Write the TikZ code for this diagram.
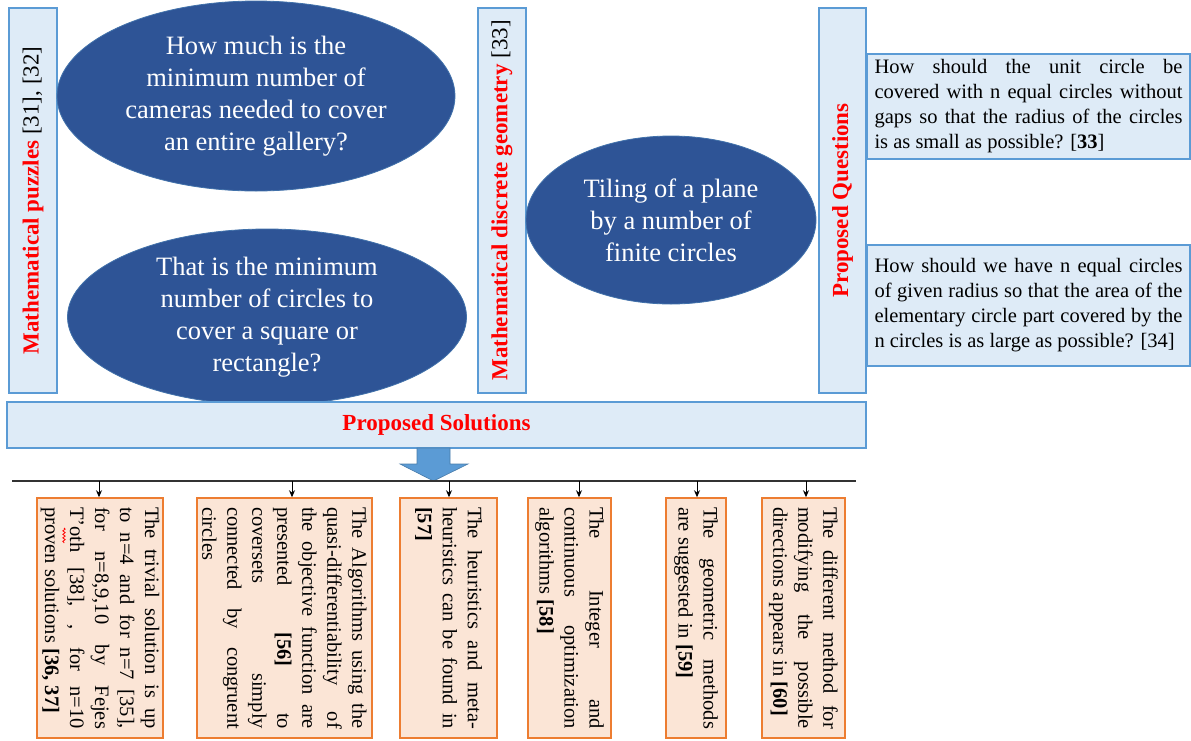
\documentclass[tikz,border=0pt]{standalone}
\usepackage{fontspec}
\setmainfont{Liberation Serif}
\usetikzlibrary{shapes.geometric,arrows.meta,decorations.pathmorphing}
\definecolor{boxblue}{RGB}{222,235,247}
\definecolor{edgeblue}{RGB}{91,155,213}
\definecolor{ellblue}{RGB}{46,84,150}
\definecolor{elledge}{RGB}{65,113,170}
\definecolor{boxorange}{RGB}{251,229,214}
\definecolor{edgeorange}{RGB}{237,125,49}
\definecolor{arrowblue}{RGB}{91,155,213}
\definecolor{linegray}{RGB}{50,50,50}
\begin{document}
\hyphenpenalty=10000
\begin{tikzpicture}[x=1pt,y=-1pt,
  vbox/.style={rectangle, draw=edgeblue, fill=boxblue, line width=1.2pt, rotate=90,
    minimum width=385pt, inner sep=0pt, font=\fontsize{23}{28}\selectfont},
  ell/.style={ellipse, draw=elledge, fill=ellblue, line width=0.8pt, text=white, inner sep=0pt,
    align=center, font=\fontsize{26.5}{32}\selectfont},
  solbox/.style={rectangle, draw=edgeblue, fill=boxblue, line width=1.2pt, inner sep=0pt,
    font=\fontsize{23}{28}\selectfont},
  qbox/.style={rectangle, draw=edgeblue, fill=boxblue, line width=1.2pt, minimum width=323pt,
    text width=308pt, align=justify, inner sep=0pt,
    font=\fontsize{20.5}{25}\selectfont},
  sbox/.style={rectangle, draw=edgeorange, fill=boxorange, line width=1.5pt, rotate=-90,
    minimum width=240pt, text width=222pt, align=justify, inner sep=0pt,
    font=\fontsize{20.5}{25}\selectfont},
  tip/.style={draw=black, line width=1pt, -{Stealth[length=7pt,width=6pt]}},
  hline/.style={draw=linegray, line width=1.6pt},
  squiggle/.style={draw=red, line width=0.8pt, decorate,
    decoration={snake, amplitude=1.2pt, segment length=3.5pt}}
]
\useasboundingbox (0,0) rectangle (1191,740);

% vertical label boxes
\node[vbox, minimum height=48pt] (mp) at (33,200.5)
  {\textcolor{red}{\bfseries Mathematical puzzles} [31], [32]};
\node[vbox, minimum height=48pt] (mg) at (502,200.5)
  {\textcolor{red}{\bfseries Mathematical discrete geometry} [33]};
\node[vbox, minimum height=47pt] (pq) at (842.5,200.5)
  {\textcolor{red}{\bfseries Proposed Questions}};

% ellipses
\node[ell, minimum width=398pt, minimum height=190pt] (e1) at (256,96)
  {How much is the\\ minimum number of\\ cameras needed to cover\\ an entire gallery?};
\node[ell, minimum width=399pt, minimum height=176pt] (e2) at (267,317)
  {That is the minimum\\ number of circles to\\ cover a square or\\ rectangle?};
\node[ell, minimum width=290pt, minimum height=168pt] (e3) at (671,220)
  {Tiling of a plane\\ by a number of\\ finite circles};

% proposed solutions bar
\node[solbox, minimum width=859pt, minimum height=46pt] (ps) at (436.5,425)
  {\textcolor{red}{\bfseries Proposed Solutions}};

% question boxes
\node[qbox, minimum height=105pt] (q1) at (1028.5,106.5)
  {How should the unit circle be\linebreak covered with n equal circles without\linebreak gaps so that the radius of the circles\linebreak is as small as possible? [\textbf{33}]};
\node[qbox, minimum height=121pt] (q2) at (1028.5,305.5)
  {How should we have n equal circles\linebreak of given radius so that the area of the\linebreak elementary circle part covered by the\linebreak n circles is as large as possible? [34]};

% big blue arrow
\draw[fill=arrowblue, draw=edgeblue!80!black, line width=0.6pt]
  (417,448) -- (450,448) -- (450,464) -- (468,464) -- (433.5,481) -- (400,464) -- (417,464) -- cycle;

% horizontal distribution line
\coordinate (hl) at (12,481);
\coordinate (hr) at (856,481);
\draw[hline] (hl) -- (hr);

% solution boxes
\node[sbox, minimum height=126pt] (b1) at (100,618)
  {The trivial solution is up\linebreak to n=4 and for n=7 [35],\linebreak for n=8,9,10 by Fejes\linebreak T’oth [38], , for n=10\linebreak proven solutions \textbf{[36, 37]}};
\node[sbox, minimum height=175pt] (b2) at (284.5,618)
  {The Algorithms using the\linebreak quasi-differentiability of\linebreak the objective function are\linebreak presented \textbf{[56]} to\linebreak coversets simply\linebreak connected by congruent\linebreak circles};
\node[sbox, minimum height=97pt] (b3) at (448.5,618)
  {The heuristics and meta-\linebreak heuristics can be found in\linebreak \textbf{[57]}};
\node[sbox, minimum height=83pt] (b4) at (569.5,618)
  {The Integer and\linebreak continuous optimization\linebreak algorithms \textbf{[58]}};
\node[sbox, minimum height=60pt] (b5) at (696,618)
  {The geometric methods\linebreak are suggested in \textbf{[59]}};
\node[sbox, minimum height=83pt] (b6) at (803.5,618)
  {The different method for\linebreak modifying the possible\linebreak directions appears in \textbf{[60]}};

% spell-check squiggle under "oth"
\coordinate (sq1) at (64,528);
\coordinate (sq2) at (64,543);
\draw[squiggle] (sq1) -- (sq2);

% arrows to boxes
\coordinate (a1) at (99,481);
\coordinate (a2) at (292,481);
\coordinate (a3) at (449,481);
\coordinate (a4) at (579,481);
\coordinate (a5) at (697,481);
\coordinate (a6) at (806,481);
\draw[tip] (a1) -- (a1 |- b1.west);
\draw[tip] (a2) -- (a2 |- b2.west);
\draw[tip] (a3) -- (a3 |- b3.west);
\draw[tip] (a4) -- (a4 |- b4.west);
\draw[tip] (a5) -- (a5 |- b5.west);
\draw[tip] (a6) -- (a6 |- b6.west);
\end{tikzpicture}
\end{document}
